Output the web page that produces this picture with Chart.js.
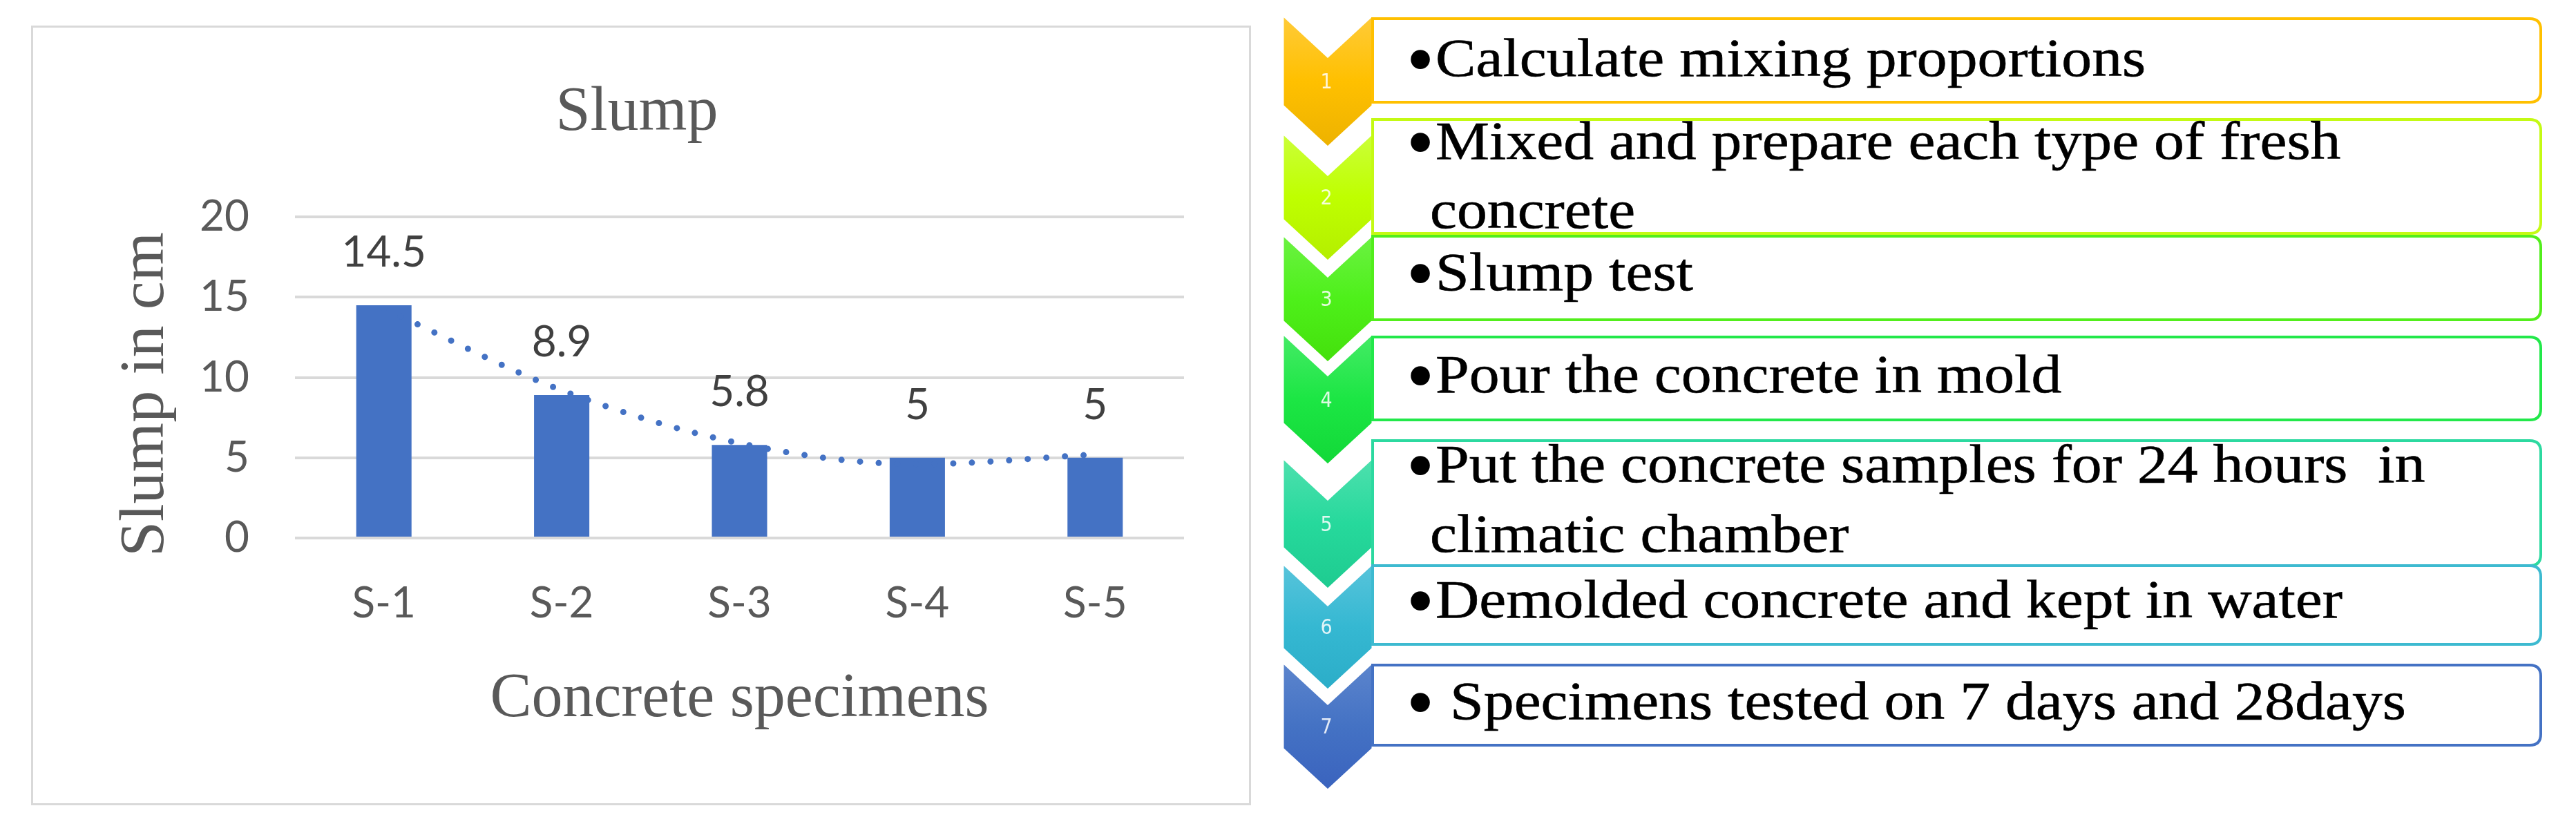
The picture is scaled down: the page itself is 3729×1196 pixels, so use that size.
<!DOCTYPE html>
<html>
<head>
<meta charset="utf-8">
<script src="https://cdn.jsdelivr.net/npm/chart.js@4.4.1/dist/chart.umd.min.js"></script>
<style>
html,body{margin:0;padding:0;background:#fff;}
#page{position:relative;width:3729px;height:1196px;overflow:hidden;background:#fff;}
#chartBox{position:absolute;left:45px;top:37px;width:1766px;height:1129px;border:3px solid #D9D9D9;box-sizing:border-box;}
#slumpChart{position:absolute;left:48px;top:40px;width:1748px;height:1123px;}
#flow{position:absolute;left:0;top:0;}
#flow text{white-space:pre;}
</style>
</head>
<body>
<div id="page">
  <div id="chartBox"></div>
  <canvas id="slumpChart" width="1748" height="1123"></canvas>
  <svg id="flow" xmlns="http://www.w3.org/2000/svg" width="3729" height="1196" viewBox="0 0 3729 1196"></svg>
</div>
<script>
// ---------- chart data ----------
const categories = ['S-1', 'S-2', 'S-3', 'S-4', 'S-5'];
const slumpCm = [14.5, 8.9, 5.8, 5, 5];
const trendCm = [14.3, 9.2, 5.9, 4.6, 5.2];   // dotted trend line
const yTickValues = [0, 5, 10, 15, 20];
const chartTitle = 'Slump';
const xAxisTitle = 'Concrete specimens';
const yAxisTitle = 'Slump in cm';

// ---------- flow steps (text) ----------
const stepNumbers = ['1', '2', '3', '4', '5', '6', '7'];
const stepLines = [
  ['Calculate mixing proportions'],
  ['Mixed and prepare each type of fresh', 'concrete'],
  ['Slump test'],
  ['Pour the concrete in mold'],
  ['Put the concrete samples for 24 hours  in', 'climatic chamber'],
  ['Demolded concrete and kept in water'],
  ['Specimens tested on 7 days and 28days']
];

// ---------- chart ----------
const dataLabelPlugin = {
  id: 'dataLabels',
  afterDatasetsDraw(c) {
    const meta = c.getDatasetMeta(0);
    const ctx = c.ctx;
    ctx.save();
    ctx.font = '62px Lato';
    ctx.fillStyle = '#404040';
    ctx.textAlign = 'center';
    ctx.textBaseline = 'alphabetic';
    meta.data.forEach((el, i) => {
      ctx.fillText(String(slumpCm[i]), el.x, el.y - 56);
    });
    ctx.restore();
  }
};
const yTitlePlugin = {
  id: 'yTitle',
  afterDraw(c) {
    const ctx = c.ctx;
    ctx.save();
    ctx.font = '92px "Liberation Serif"';
    ctx.fillStyle = '#595959';
    ctx.textAlign = 'center';
    ctx.textBaseline = 'alphabetic';
    ctx.translate(188, 531);
    ctx.rotate(-Math.PI / 2);
    ctx.fillText(yAxisTitle, 0, 0);
    ctx.restore();
  }
};

new Chart(document.getElementById('slumpChart'), {
  data: {
    labels: categories,
    datasets: [
      {
        type: 'bar', label: 'Slump', data: slumpCm,
        backgroundColor: '#4472C4', borderWidth: 0,
        barPercentage: 0.311, categoryPercentage: 1.0,
        yAxisID: 'y', order: 1
      },
      {
        type: 'line', label: 'Trend', data: trendCm,
        borderColor: '#4472C4', borderWidth: 9, borderDash: [0, 27],
        borderCapStyle: 'round', pointRadius: 0, fill: false,
        cubicInterpolationMode: 'monotone', yAxisID: 'y', order: 0
      }
    ]
  },
  options: {
    responsive: false,
    animation: false,
    layout: { padding: 0 },
    plugins: {
      legend: { display: false },
      tooltip: { enabled: false },
      title: {
        display: true, text: chartTitle, color: '#595959',
        font: { family: 'Liberation Serif', size: 90, weight: 'normal' },
        padding: { top: 70, bottom: 96 }
      }
    },
    scales: {
      x: {
        grid: { display: false, drawTicks: false },
        border: { display: false },
        ticks: { color: '#595959', font: { family: 'Lato', size: 62 }, padding: 58, maxRotation: 0 },
        title: {
          display: true, text: xAxisTitle, color: '#595959',
          font: { family: 'Liberation Serif', size: 90, weight: 'normal' },
          padding: { top: 0, bottom: 96 }
        },
        afterFit(s) { s.height = 384; }
      },
      y: {
        min: 0, max: 20,
        afterBuildTicks(s) { s.ticks = yTickValues.map(v => ({ value: v })); },
        grid: { color: '#D9D9D9', lineWidth: 4, drawTicks: false },
        border: { display: false },
        ticks: { color: '#595959', font: { family: 'Lato', size: 62 }, padding: 66 },
        afterFit(s) { s.width = 379; }
      },
      y2: {
        position: 'right', display: true,
        grid: { display: false, drawTicks: false },
        border: { display: false },
        ticks: { display: false },
        afterFit(s) { s.width = 82; }
      }
    }
  },
  plugins: [dataLabelPlugin, yTitlePlugin]
});

// ---------- flow diagram (layout) ----------
const NS = 'http://www.w3.org/2000/svg';
const svg = document.getElementById('flow');
const defs = document.createElementNS(NS, 'defs');
svg.appendChild(defs);

const chevLayout = [
  { top: 22, end: 153 }, { top: 193, end: 318 }, { top: 340, end: 465 },
  { top: 483, end: 613 }, { top: 663, end: 793 }, { top: 816, end: 939 },
  { top: 959, end: 1084 }
];
const boxLayout = [
  { top: 27, bottom: 148, baselines: [110] },
  { top: 173, bottom: 338, baselines: [230, 330] },
  { top: 342, bottom: 463, baselines: [420] },
  { top: 488, bottom: 608, baselines: [568] },
  { top: 638, bottom: 819, baselines: [698, 799] },
  { top: 819, bottom: 933, baselines: [894] },
  { top: 963, bottom: 1079, baselines: [1041] }
];
const chevTopColor = ['#FFCB3A', '#CBFF3A', '#6CF243', '#45EB66', '#4FE0AE', '#58C4DB', '#5C85CD'];
const chevMidColor = ['#FFC000', '#BFFF00', '#4EF01A', '#1CE644', '#26D99C', '#35B8D2', '#4472C4'];
const chevBotColor = ['#EDB200', '#B4EE00', '#44E00C', '#12D838', '#1ECB90', '#2BADC8', '#3A63BE'];
const boxColor = ['#FFC000', '#C4FA14', '#52EE1C', '#22E84A', '#2CD9A0', '#3DBAD0', '#4472C4'];

function el(name, attrs, parent) {
  const e = document.createElementNS(NS, name);
  for (const k in attrs) e.setAttribute(k, attrs[k]);
  (parent || svg).appendChild(e);
  return e;
}

const X0 = 1857, X1 = 1987, XC = 1922, DEPTH = 60;
const BOX_L = 1987, BOX_R = 3678, R = 16;

chevLayout.forEach((c, i) => {
  const g = el('linearGradient', { id: 'cg' + i, x1: 0, y1: 0, x2: 0, y2: 1 }, defs);
  el('stop', { offset: '0', 'stop-color': chevTopColor[i] }, g);
  el('stop', { offset: '0.5', 'stop-color': chevMidColor[i] }, g);
  el('stop', { offset: '1', 'stop-color': chevBotColor[i] }, g);
  const d = `M${X0},${c.top} L${XC},${c.top + DEPTH} L${X1},${c.top} L${X1},${c.end} L${XC},${c.end + DEPTH} L${X0},${c.end} Z`;
  el('path', { d, fill: `url(#cg${i})`, stroke: '#FFFFFF', 'stroke-width': 3, 'stroke-linejoin': 'miter' });
});

boxLayout.forEach((b, i) => {
  const d = `M${BOX_L},${b.top} H${BOX_R - R} Q${BOX_R},${b.top} ${BOX_R},${b.top + R} V${b.bottom - R} Q${BOX_R},${b.bottom} ${BOX_R - R},${b.bottom} H${BOX_L} Z`;
  el('path', { d, fill: '#FFFFFF', stroke: boxColor[i], 'stroke-width': 4 });
});

chevLayout.forEach((c, i) => {
  const t = el('text', {
    x: 1920, y: (c.top + c.end + DEPTH) / 2,
    'text-anchor': 'middle', 'dominant-baseline': 'central',
    'font-family': 'DejaVu Sans Condensed, DejaVu Sans', 'font-size': 30,
    fill: 'rgba(255,255,255,0.85)'
  });
  t.textContent = stepNumbers[i];
});

boxLayout.forEach((b, i) => {
  const bl = el('text', {
    x: 2056, y: b.baselines[0] + 15, 'text-anchor': 'middle',
    'font-family': 'Liberation Serif', 'font-size': 116, fill: '#000'
  });
  bl.textContent = '\u2022';
  stepLines[i].forEach((line, j) => {
    const x = j === 0 ? (i === 6 ? 2099 : 2078) : 2070;
    const t = el('text', {
      transform: `translate(${x} ${b.baselines[j]}) scale(1.125 1)`,
      'font-family': 'Liberation Serif', 'font-size': 78, fill: '#000',
      stroke: '#000', 'stroke-width': 0.6
    });
    t.textContent = line;
  });
});
</script>
</body>
</html>
